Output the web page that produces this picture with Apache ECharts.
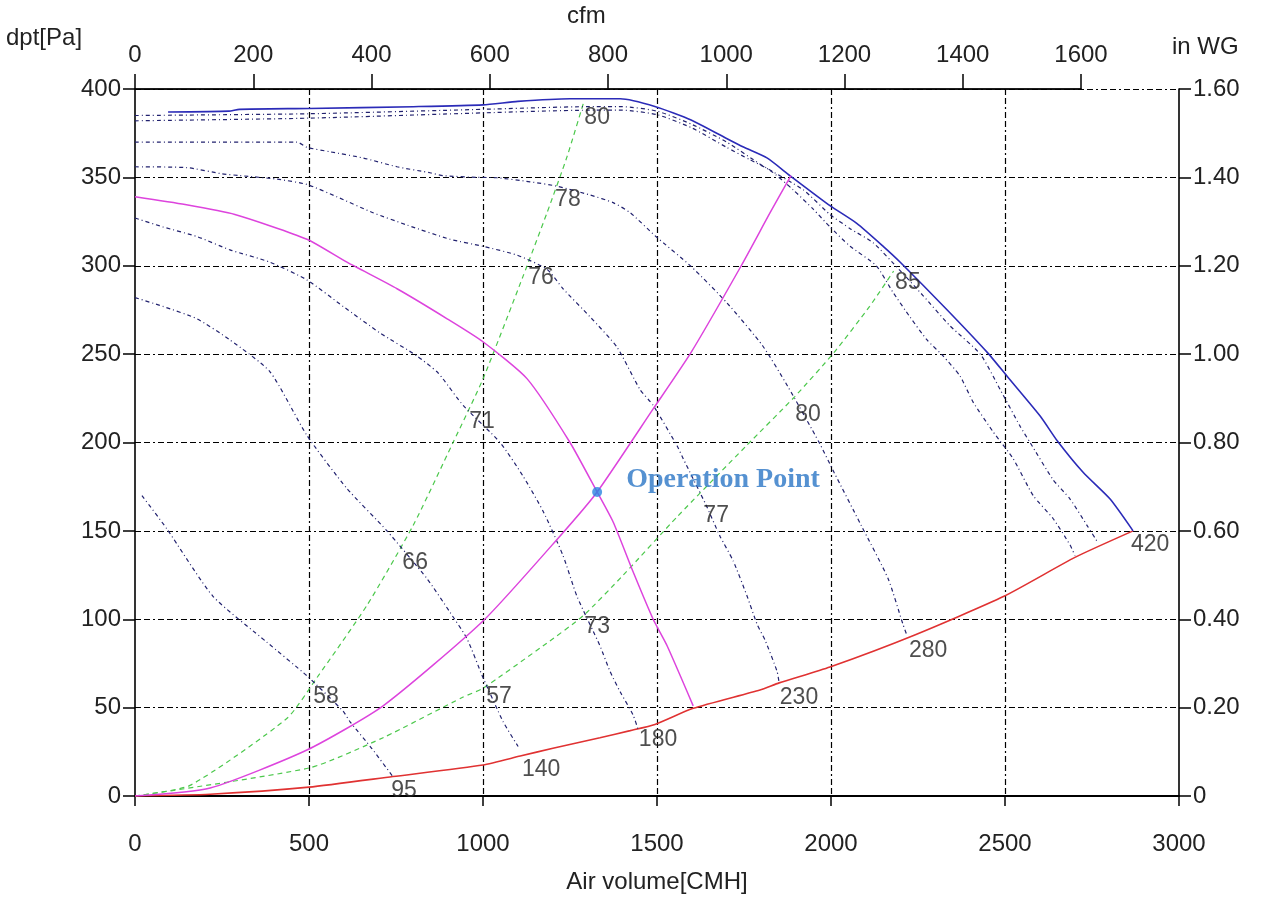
<!DOCTYPE html>
<html><head><meta charset="utf-8">
<script src="https://cdn.jsdelivr.net/npm/echarts@6/dist/echarts.min.js"></script>
<style>html,body{margin:0;padding:0;background:#fff}#c{width:1268px;height:899px}</style>
</head><body><div id="c"></div>
<script>
// ---- data (x: air volume CMH, y: static pressure Pa) ----
const xTicksCMH = [0, 500, 1000, 1500, 2000, 2500, 3000];
const cfmTicks = [0, 200, 400, 600, 800, 1000, 1200, 1400, 1600];
const inwgTicks = ['0', '0.20', '0.40', '0.60', '0.80', '1.00', '1.20', '1.40', '1.60'];

const fanMaxSolid = [[95,387],[270,387.5],[300,388.5],[500,389],[800,390],[1000,391],[1100,393],[1250,394.5],[1394,394.5],[1496,390],[1598,382.5],[1700,372],[1750,367],[1816,361],[1882,351],[1997,334],[2074,324],[2150,311],[2199,302],[2334,275],[2449,251],[2506,237.5],[2601,215],[2650,201],[2725,183],[2802,168],[2868,150]];
const fanUpper = [[0,385],[500,386],[1000,388.5],[1300,390],[1400,390],[1500,387.5],[1600,380],[1700,370],[1800,357],[1920,343],[1997,329],[2055,321],[2121,313],[2200,297],[2265,283],[2342,266],[2429,250],[2486,230],[2544,209],[2572,200],[2638,179],[2687,168],[2736,153],[2765,144]];
const fanLower = [[0,382],[500,383.5],[1000,386.5],[1300,388],[1400,388],[1500,385.5],[1600,378],[1700,367],[1767,360],[1825,354],[1891,343],[1949,332],[1997,322],[2055,311],[2130,300],[2178,285],[2227,271],[2276,258],[2322,249],[2371,237.5],[2408,223],[2466,206],[2523,191],[2581,170],[2638,157],[2687,142],[2701,136]];
const fan280 = [[0,370],[465,370],[494,367],[560,364.5],[655,361],[753,356],[848,352.6],[885,351],[983,350],[1040,349.8],[1135,347.5],[1213,345],[1308,340],[1374,335.7],[1423,330],[1496,316.7],[1598,299.6],[1701,279],[1804,254.6],[1875,232],[1966,200],[2009,183],[2087,153],[2164,123],[2207,97],[2218,91]];
const fan230 = [[0,356],[150,355.5],[250,352],[302,351],[408,349],[494,346],[580,339],[684,330],[782,323],[905,315],[1000,311],[1098,306],[1184,298],[1230,287],[1308,271],[1385,254],[1451,230],[1489,221],[1558,198],[1575,191],[1640,165],[1681,147],[1719,133],[1759,113],[1788,97],[1811,88],[1845,70.5],[1851,64]];
const fan180 = [[0,327],[80,322],[178,316.5],[273,309],[388,302],[494,292],[598,277],[704,262],[810,249],[868,240],[885,236],[943,221],[1049,200],[1115,181],[1173,161],[1230,136],[1270,113],[1336,85],[1365,70.5],[1394,59],[1431,46],[1445,38]];
const fan140 = [[0,282],[80,277],[178,270],[273,258],[388,240],[494,204],[609,174],[724,150],[839,123],[905,104],[954,89],[1000,67],[1058,42],[1101,28]];
const fan95 = [[20,170],[92,151],[224,113],[379,87],[494,68],[598,48],[618,42],[680,27],[741,11]];
const fanSelected = [[0,339],[144,334.6],[287,329],[494,315],[609,302],[753,287],[897,270],[1000,257],[1127,236],[1250,200],[1328,172],[1374,155],[1431,127],[1489,100],[1529,85],[1604,51]];
const sysSelected = [[0,0],[216,4.5],[494,26],[713,51],[1000,99],[1221,147],[1328,172],[1489,219],[1598,251],[1742,300],[1825,330],[1885,351]];
const sysGreenSteep = [[0,0],[158,6],[437,44],[523,67],[667,108],[799,153],[914,200],[1000,236],[1115,294],[1184,330],[1242,362],[1290,393]];
const sysGreenFlat = [[0,0],[503,16],[713,33],[943,56],[1000,61],[1173,85],[1288,102],[1403,125],[1558,158],[1756,198],[1896,226],[2009,251],[2111,277],[2180,297]];
const sysRed = [[0,0],[216,1],[500,5],[741,11],[1000,17.5],[1107,22.6],[1201,27],[1336,33],[1423,37],[1494,40.5],[1604,49.6],[1796,60],[1851,64],[1997,73],[2239,91],[2497,113],[2701,135],[2868,150]];
const operationPoint = [1328, 172];

const effText = ['58','66','71','76','78','80','57','73','77','80','85'];
const effAt = [[549,56.4],[805,132],[997,212],[1167,293.4],[1244,337.4],[1328,383.6],[1046,56.4],[1328,95.9],[1670,158.5],[1934,215.5],[2221,290.5]];
const powerText = ['95','140','180','230','280','420'];
const powerAt = [[773,2.8],[1167,14.7],[1503,31.6],[1908,55.9],[2279,82.4],[2917,142.2]];

// ---- chart ----
const SANS = 'Liberation Sans, Arial, sans-serif';
const gridDash = [6, 3, 6, 3, 2, 3];
function plain(v) { return String(v); }
function fan(data, solid) {
  return { type: 'line', data: data, xAxisIndex: 0, yAxisIndex: 0, showSymbol: false, smooth: 0.2, silent: true, z: 3,
    lineStyle: solid ? { color: '#2b2bb8', width: 1.6 } : { color: '#22226f', width: 1.2, type: [4, 3, 1, 3] } };
}
function sys(data, color, dashed, w) {
  return { type: 'line', data: data, xAxisIndex: 0, yAxisIndex: 0, showSymbol: false, smooth: 0.2, silent: true, z: 3,
    lineStyle: { color: color, width: w || 1.4, type: dashed ? [5, 4] : 'solid' } };
}
const chart = echarts.init(document.getElementById('c'), null, { renderer: 'canvas' });
chart.setOption({
  animation: false,
  backgroundColor: '#fff',
  textStyle: { fontFamily: SANS },
  grid: [
    { left: 135, right: 89, top: 89, bottom: 101 },
    { left: 135, right: 187, top: 89, bottom: 101 }
  ],
  xAxis: [
    { gridIndex: 0, type: 'value', position: 'bottom', min: xTicksCMH[0], max: xTicksCMH[xTicksCMH.length - 1], interval: 500,
      axisLine: { show: true, onZero: false, lineStyle: { color: '#000', width: 2 } },
      axisTick: { show: true, inside: false, length: 10, lineStyle: { color: '#000', width: 1.5 } },
      axisLabel: { fontSize: 24, color: '#222', margin: 36, fontFamily: SANS, formatter: plain },
      splitLine: { show: true, showMinLine: false, showMaxLine: false, lineStyle: { color: '#000', width: 1.2, type: gridDash } },
      name: 'Air volume[CMH]', nameLocation: 'middle', nameGap: 74,
      nameTextStyle: { fontSize: 24, color: '#222', fontFamily: SANS } },
    { gridIndex: 1, type: 'value', position: 'top', min: cfmTicks[0], max: cfmTicks[cfmTicks.length - 1], interval: 200,
      axisLine: { show: true, onZero: false, lineStyle: { color: '#000', width: 1.6 } },
      axisTick: { show: true, inside: false, length: 15, lineStyle: { color: '#000', width: 1.5 } },
      axisLabel: { fontSize: 24, color: '#222', margin: 22, fontFamily: SANS, formatter: plain },
      splitLine: { show: false } }
  ],
  yAxis: [
    { gridIndex: 0, type: 'value', position: 'left', min: 0, max: 400, interval: 50,
      axisLine: { show: true, onZero: false, lineStyle: { color: '#000', width: 1.6 } },
      axisTick: { show: true, inside: false, length: 12, lineStyle: { color: '#000', width: 1.5 } },
      axisLabel: { fontSize: 24, color: '#222', margin: 14, fontFamily: SANS, formatter: plain },
      splitLine: { show: true, showMinLine: false, showMaxLine: true, lineStyle: { color: '#000', width: 1.2, type: gridDash } } },
    { gridIndex: 0, type: 'value', position: 'right', min: 0, max: 1.6, interval: 0.2,
      axisLine: { show: true, onZero: false, lineStyle: { color: '#000', width: 1.6 } },
      axisTick: { show: true, inside: false, length: 12, lineStyle: { color: '#000', width: 1.5 } },
      axisLabel: { fontSize: 24, color: '#222', margin: 14, fontFamily: SANS,
        formatter: function (v) { return inwgTicks[Math.round(v / 0.2)]; } },
      splitLine: { show: false } },
    { gridIndex: 1, type: 'value', min: 0, max: 400, show: false }
  ],
  graphic: [
    { type: 'text', left: 6, top: 26, style: { text: 'dpt[Pa]', fontSize: 24, fill: '#222', fontFamily: SANS } },
    { type: 'text', left: 1172, top: 35, style: { text: 'in WG', fontSize: 24, fill: '#222', fontFamily: SANS } },
    { type: 'text', left: 567, top: 4, style: { text: 'cfm', fontSize: 24, fill: '#222', fontFamily: SANS } }
  ],
  series: [
    sys(sysGreenSteep, '#4cc84c', true, 1.2),
    sys(sysGreenFlat, '#4cc84c', true, 1.2),
    sys(sysRed, '#e03232', false, 1.6),
    fan(fan95), fan(fan140), fan(fan180), fan(fan230), fan(fan280), fan(fanLower), fan(fanUpper),
    fan(fanMaxSolid, true),
    sys(fanSelected, '#dd44dd', false, 1.5),
    sys(sysSelected, '#dd44dd', false, 1.5),
    { type: 'scatter', xAxisIndex: 0, yAxisIndex: 0, data: [operationPoint], symbol: 'circle', symbolSize: 10, z: 5, silent: true,
      itemStyle: { color: '#2a86e0' },
      label: { show: true, position: 'right', distance: 24, offset: [0, -12], formatter: 'Operation Point',
        fontFamily: 'Liberation Serif, Times New Roman, serif', fontWeight: 'bold', fontSize: 28, color: '#2a76c6' } },
    { type: 'scatter', xAxisIndex: 0, yAxisIndex: 0, symbolSize: 0, silent: true, z: 6,
      data: effAt.map(function (p, i) { return { name: effText[i], value: p }; }),
      label: { show: true, position: 'inside', formatter: '{b}', fontSize: 23, color: '#222', fontFamily: SANS } },
    { type: 'scatter', xAxisIndex: 0, yAxisIndex: 0, symbolSize: 0, silent: true, z: 6,
      data: powerAt.map(function (p, i) { return { name: powerText[i], value: p }; }),
      label: { show: true, position: 'inside', formatter: '{b}', fontSize: 23, color: '#222', fontFamily: SANS } },
    { type: 'line', xAxisIndex: 1, yAxisIndex: 2, data: [[0, 400], [1600, 400]], showSymbol: false, silent: true, z: 4,
      lineStyle: { color: '#000', width: 1.6 } }
  ]
});
</script></body></html>
